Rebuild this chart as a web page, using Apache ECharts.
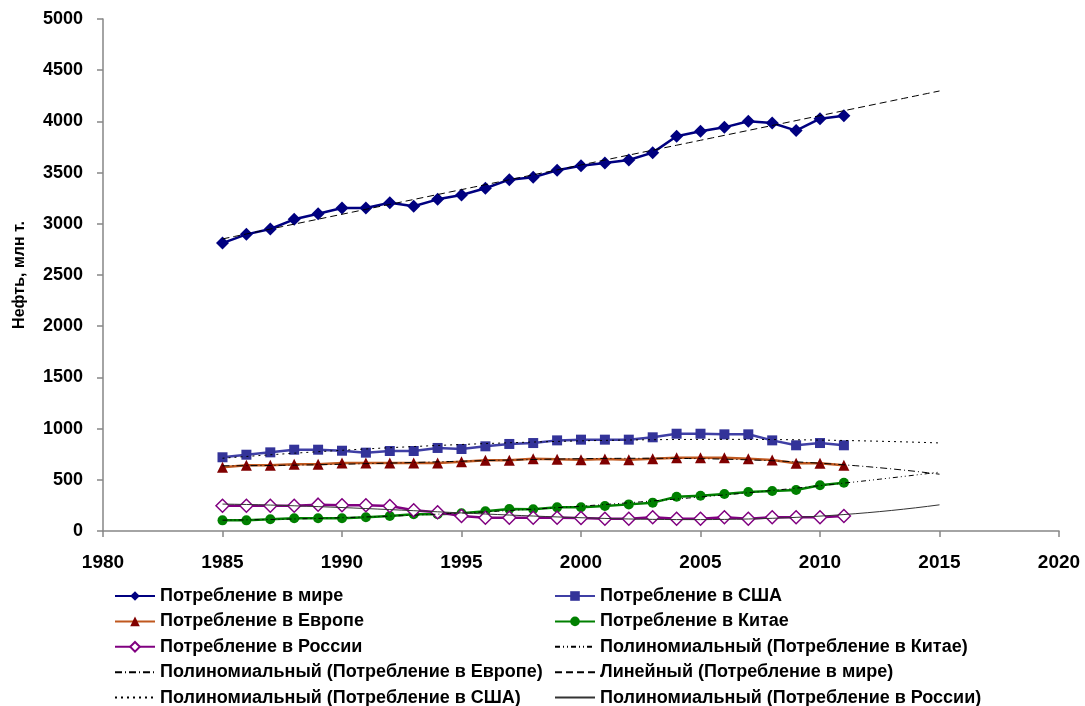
<!DOCTYPE html>
<html>
<head>
<meta charset="utf-8">
<script src="https://cdn.jsdelivr.net/npm/echarts@6/dist/echarts.min.js"></script>
<style>
html,body{margin:0;padding:0;background:#fff;}
#chart{width:1085px;height:706px;}
</style>
</head>
<body>
<div id="chart"></div>
<script>
var years = [1985,1986,1987,1988,1989,1990,1991,1992,1993,1994,1995,1996,1997,1998,1999,2000,2001,2002,2003,2004,2005,2006,2007,2008,2009,2010,2011];
var world  = [2812,2897,2949,3044,3099,3154,3154,3206,3171,3239,3281,3347,3431,3454,3522,3566,3594,3623,3695,3855,3903,3942,4001,3984,3910,4027,4056];
var usa    = [720,745,768,794,794,784,765,781,781,811,801,827,850,859,885,892,892,892,915,950,950,944,944,885,837,859,837];
var europe = [622,641,641,651,651,664,664,664,664,664,677,690,690,706,700,696,703,697,706,716,716,716,706,693,661,661,641];
var china  = [104,104,114,124,124,124,134,146,163,163,173,192,215,212,231,232,244,260,277,335,345,361,381,391,400,446,472];
var russia = [247,247,247,247,257,251,251,244,202,183,146,130,130,130,130,127,120,120,134,120,120,134,120,134,134,134,146];
var trendEndYear = 2015;
var xTicks = {min:1980, max:2020, interval:5};
var yTicks = {min:0, max:5000, interval:500};

var names = {
  world:'Потребление в мире', usa:'Потребление в США', europe:'Потребление в Европе',
  china:'Потребление в Китае', russia:'Потребление в России',
  pChina:'Полиномиальный (Потребление в Китае)', pEurope:'Полиномиальный (Потребление в Европе)',
  lWorld:'Линейный (Потребление в мире)', pUsa:'Полиномиальный (Потребление в США)',
  pRussia:'Полиномиальный (Потребление в России)'
};

// least-squares polynomial trendline of the data (period index, centred/scaled)
function fit(vals, deg){
  var n = deg+1, A = [], b = [], c0 = (vals.length+1)/2, s0 = (vals.length-1)/2;
  for (var i=0;i<n;i++){A.push(new Array(n).fill(0));b.push(0);}
  vals.forEach(function(v,k){
    var t = (k+1-c0)/s0;
    for (var i=0;i<n;i++){
      for (var j=0;j<n;j++) A[i][j]+=Math.pow(t,i+j);
      b[i]+=v*Math.pow(t,i);
    }
  });
  for (var c=0;c<n;c++){
    var p=c; for (var r=c+1;r<n;r++) if(Math.abs(A[r][c])>Math.abs(A[p][c])) p=r;
    var tmp=A[c];A[c]=A[p];A[p]=tmp; tmp=b[c];b[c]=b[p];b[p]=tmp;
    for (var r2=c+1;r2<n;r2++){var f=A[r2][c]/A[c][c]; for(var j2=c;j2<n;j2++)A[r2][j2]-=f*A[c][j2]; b[r2]-=f*b[c];}
  }
  var coef=new Array(n).fill(0);
  for (var r3=n-1;r3>=0;r3--){var s=b[r3]; for(var j3=r3+1;j3<n;j3++) s-=A[r3][j3]*coef[j3]; coef[r3]=s/A[r3][r3];}
  var out=[];
  for (var y=years[0]; y<=trendEndYear; y+=0.5){
    var t=(y-years[0]+1-c0)/s0, v=0;
    for (var i2=0;i2<n;i2++) v+=coef[i2]*Math.pow(t,i2);
    out.push([y,v]);
  }
  return out;
}
function pairs(v){return years.map(function(y,i){return [y,v[i]];});}

var FONT = '"Liberation Sans", Arial, sans-serif';

function dataSeries(name, vals, color, lineColor, symbol, size, fill){
  return {
    name:name, type:'line', data:pairs(vals), symbol:symbol, symbolSize:size,
    lineStyle:{color:lineColor, width:2.5},
    itemStyle:{color:fill, borderColor:color, borderWidth: fill==='#ffffff'?1.5:0},
    z:3
  };
}
function trendSeries(name, data, type, color){
  return {
    name:name, type:'line', data:data, symbol:'none', smooth:false,
    lineStyle:{color:color||'#000000', width:1, type:type},
    itemStyle:{color:color||'#000000'}, z:4
  };
}

var series = [
  dataSeries(names.world, world, '#000080', '#000080', 'diamond', 13, '#000080'),
  dataSeries(names.usa, usa, '#333399', '#3f3fa5', 'rect', 10, '#333399'),
  dataSeries(names.europe, europe, '#800000', '#C0581F', 'triangle', 11, '#800000'),
  dataSeries(names.china, china, '#008000', '#008000', 'circle', 10, '#008000'),
  dataSeries(names.russia, russia, '#800080', '#800080', 'diamond', 13, '#ffffff'),
  trendSeries(names.pChina, fit(china,2), [5,3,1,3,1,3]),
  trendSeries(names.pEurope, fit(europe,3), [7,3,1,3]),
  trendSeries(names.lWorld, fit(world,1), [7,4]),
  trendSeries(names.pUsa, fit(usa,2), [2,4]),
  trendSeries(names.pRussia, fit(russia,3), 'solid', '#333333')
];

function trendItem(n){return {name:n, itemStyle:{opacity:0}};}
var legendText = {fontFamily:FONT, fontWeight:'bold', fontSize:18, color:'#000', lineHeight:18};
var legendBase = {orient:'vertical', top:587, height:130, padding:0, itemWidth:40, itemHeight:12, itemGap:7.4, textStyle:legendText};
var chart = echarts.init(document.getElementById('chart'), null, {renderer:'canvas'});
function plain(v){return String(v);}
chart.setOption({
  animation:false,
  backgroundColor:'#ffffff',
  grid:{left:103, right:26, top:19, bottom:175, containLabel:false},
  xAxis:{
    type:'value', min:xTicks.min, max:xTicks.max, interval:xTicks.interval,
    axisLine:{onZero:false, lineStyle:{color:'#868686', width:1.5}},
    axisTick:{show:true, length:6, lineStyle:{color:'#868686', width:1.5}},
    splitLine:{show:false},
    axisLabel:{fontFamily:FONT, fontWeight:'bold', fontSize:19, color:'#000', margin:22, formatter:plain}
  },
  yAxis:{
    type:'value', min:yTicks.min, max:yTicks.max, interval:yTicks.interval,
    name:'Нефть, млн т.', nameLocation:'middle', nameGap:75, nameRotate:90,
    nameTextStyle:{fontFamily:FONT, fontWeight:'bold', fontSize:16, color:'#000'},
    axisLine:{show:true, lineStyle:{color:'#868686', width:1.5}},
    axisTick:{show:true, length:6, lineStyle:{color:'#868686', width:1.5}},
    splitLine:{show:false},
    axisLabel:{fontFamily:FONT, fontWeight:'bold', fontSize:18, color:'#000', margin:20, formatter:plain}
  },
  legend:[
    Object.assign({left:114, data:[names.world, names.europe, names.russia, trendItem(names.pEurope), trendItem(names.pUsa)]}, legendBase),
    Object.assign({left:554, data:[names.usa, names.china, trendItem(names.pChina), trendItem(names.lWorld), trendItem(names.pRussia)]}, legendBase)
  ],
  series:series
});
</script>
</body>
</html>
